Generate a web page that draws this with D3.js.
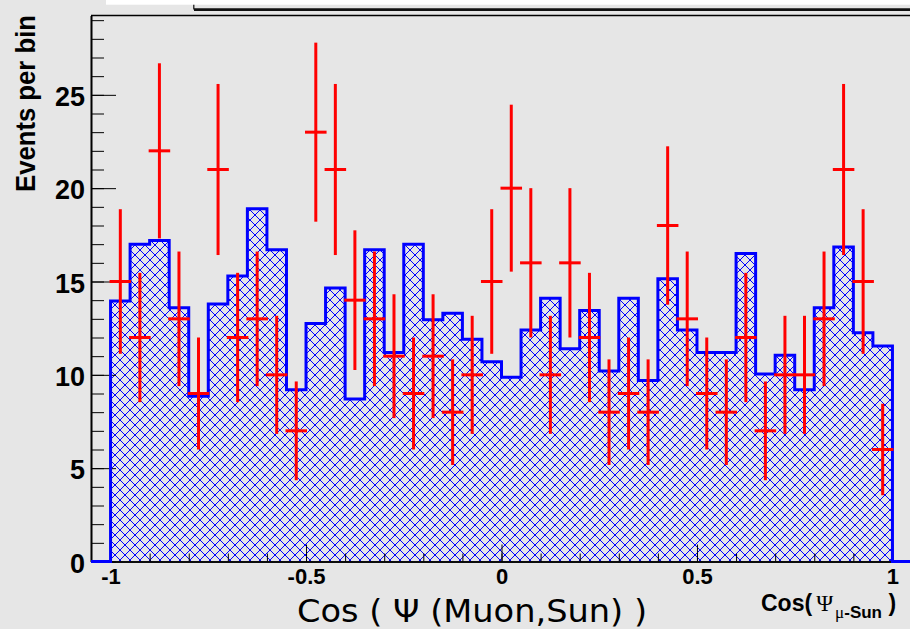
<!DOCTYPE html>
<html>
<head>
<meta charset="utf-8">
<script src="https://cdn.jsdelivr.net/npm/d3@7"></script>
<style>
  html, body { margin: 0; padding: 0; background: #e6e6e6; overflow: hidden; }
  svg { display: block; }
  .tick-label { font-family: "Liberation Sans", Arial, sans-serif; font-weight: bold; fill: #000; }
</style>
</head>
<body>
<svg></svg>
<script>
const WIDTH = 910, HEIGHT = 629;

// histogram binning (40 bins between -1 and 1)
const binLow = -1, binHigh = 1, nBins = 40;
// expected distribution (blue hatched histogram)
const expected = [13.95, 17.0, 17.2, 13.6, 8.85, 13.8, 15.3, 18.9, 16.7, 9.2,
  12.75, 14.65, 8.7, 16.7, 11.2, 17.0, 12.95, 13.3, 11.9, 10.7,
  9.87, 12.4, 14.1, 11.4, 13.45, 10.2, 14.1, 9.7, 15.15, 12.4,
  11.2, 11.2, 16.5, 10.05, 11.05, 9.2, 13.6, 16.85, 12.25, 11.55];
// observed events (red crosses, sqrt(N) errors)
const observed = [15, 12, 22, 13, 9, 21, 12, 13, 10, 7,
  23, 21, 14, 13, 11, 9, 11, 8, 10, 15,
  20, 16, 10, 16, 12, 8, 9, 8, 18, 13,
  9, 8, 12, 7, 10, 10, 13, 21, 15, 6];
const xMajorTicks = [-1, -0.5, 0, 0.5, 1];
const xMajorLabels = ["-1", "-0.5", "0", "0.5", "1"];
const yMajorTicks = [0, 5, 10, 15, 20, 25];

const svg = d3.select("svg").attr("width", WIDTH).attr("height", HEIGHT);

const x = d3.scaleLinear().domain([-1.05, 1.05]).range([91, 912]);
const y = d3.scaleLinear().domain([0, 29.25]).range([561.5, 15.5]);
const binWidth = (binHigh - binLow) / nBins;
const edges = d3.range(nBins + 1).map(i => binLow + i * binWidth);

// background
svg.append("rect").attr("width", WIDTH).attr("height", HEIGHT).attr("fill", "#e6e6e6");

// hatch pattern
const defs = svg.append("defs");
defs.append("pattern")
  .attr("id", "hatch")
  .attr("patternUnits", "userSpaceOnUse")
  .attr("width", 10)
  .attr("height", 10)
  .append("path")
  .attr("d", "M0,0L10,10M10,0L0,10")
  .attr("stroke", "#0000ff")
  .attr("stroke-width", 1)
  .attr("fill", "none");

// title pave remnants at the top
svg.append("rect").attr("x", 106).attr("y", 0).attr("width", 804).attr("height", 4.7).attr("fill", "#fff");
svg.append("line").attr("x1", 193.8).attr("x2", 193.8).attr("y1", 4.7).attr("y2", 9.5)
  .attr("stroke", "#111").attr("stroke-width", 1.2);
svg.append("line").attr("x1", 194).attr("x2", 910).attr("y1", 9.6).attr("y2", 9.6)
  .attr("stroke", "#111").attr("stroke-width", 2.6);

// histogram fill
const stepPts = [];
expected.forEach((v, i) => {
  stepPts.push([edges[i], v]);
  stepPts.push([edges[i + 1], v]);
});
svg.append("path")
  .datum(stepPts)
  .attr("d", d3.area().x(d => x(d[0])).y0(y(0)).y1(d => y(d[1])))
  .attr("fill", "url(#hatch)");

// frame top
svg.append("line")
  .attr("x1", x(-1.05)).attr("x2", WIDTH)
  .attr("y1", y.range()[1]).attr("y2", y.range()[1])
  .attr("stroke", "#000").attr("stroke-width", 1.4);

// y axis
const yAxis = svg.append("g").attr("transform", `translate(${x(-1.05)},0)`);
yAxis.call(d3.axisLeft(y).tickValues(d3.range(0, 30)).tickSize(-13).tickSizeOuter(0).tickFormat(""));
yAxis.append("g").call(d3.axisLeft(y).tickValues(yMajorTicks).tickSize(-25).tickSizeOuter(0).tickPadding(6));
yAxis.selectAll("path.domain").attr("stroke", "#000").attr("stroke-width", 1.6);
yAxis.selectAll(".tick line").attr("stroke", "#000").attr("stroke-width", 1);
yAxis.selectAll(".tick text")
  .attr("class", "tick-label")
  .style("font-size", "27px")
  .attr("dy", "0.4em");

// x axis
const xAxis = svg.append("g").attr("transform", `translate(0,${y(0)})`);
xAxis.call(d3.axisBottom(x).tickValues(d3.range(-10, 11).map(i => i / 10)).tickSize(-8).tickSizeOuter(0).tickFormat(""));
xAxis.append("g").call(d3.axisBottom(x).tickValues(xMajorTicks).tickSize(-17).tickSizeOuter(0).tickPadding(7)
  .tickFormat((d, i) => xMajorLabels[i]));
xAxis.selectAll("path.domain").attr("stroke", "#000").attr("stroke-width", 1.6);
xAxis.selectAll(".tick line").attr("stroke", "#000").attr("stroke-width", 1);
xAxis.selectAll(".tick text")
  .attr("class", "tick-label")
  .style("font-size", "22px");

// histogram outline (runs along the bottom outside [-1, 1])
const outline = [[-1.05, 0], [binLow, 0]].concat(stepPts, [[binHigh, 0], [1.06, 0]]);
svg.append("path")
  .datum(outline)
  .attr("d", d3.line().x(d => x(d[0])).y(d => y(d[1])))
  .attr("fill", "none")
  .attr("stroke", "#0000ff")
  .attr("stroke-width", 3)
  .attr("stroke-linejoin", "miter");

// observed points with errors
const pts = svg.append("g").attr("class", "observed")
  .selectAll("g")
  .data(observed)
  .enter()
  .append("g");
pts.append("line")
  .attr("x1", (d, i) => x(edges[i] + binWidth / 2))
  .attr("x2", (d, i) => x(edges[i] + binWidth / 2))
  .attr("y1", d => y(d - Math.sqrt(d)))
  .attr("y2", d => y(d + Math.sqrt(d)))
  .attr("stroke", "#ff0000")
  .attr("stroke-width", 3);
pts.append("line")
  .attr("x1", (d, i) => x(edges[i]) - 1)
  .attr("x2", (d, i) => x(edges[i + 1]) + 1)
  .attr("y1", d => y(d))
  .attr("y2", d => y(d))
  .attr("stroke", "#ff0000")
  .attr("stroke-width", 3);

// axis titles
svg.append("text")
  .attr("transform", "translate(35,15) rotate(-90)")
  .attr("text-anchor", "end")
  .attr("textLength", 177)
  .attr("lengthAdjust", "spacingAndGlyphs")
  .style("font-family", "'Liberation Sans', Arial, sans-serif")
  .style("font-weight", "bold")
  .style("font-size", "27px")
  .text("Events per bin");

svg.append("text")
  .attr("x", 297)
  .attr("y", 622)
  .attr("textLength", 350)
  .attr("lengthAdjust", "spacingAndGlyphs")
  .style("font-family", "'Comic Sans MS', 'DejaVu Sans', sans-serif")
  .style("font-size", "32px")
  .text("Cos ( \u03A8 (Muon,Sun) )");

const corner = svg.append("text")
  .attr("x", 761)
  .attr("y", 611)
  .style("font-family", "'Liberation Sans', Arial, sans-serif")
  .style("font-weight", "bold")
  .style("font-size", "23px");
corner.append("tspan").text("Cos(");
corner.append("tspan").attr("dx", 4)
  .style("font-family", "'Liberation Serif', 'Times New Roman', serif")
  .style("font-weight", "normal")
  .text("\u03A8");
corner.append("tspan").attr("dx", 2).attr("dy", 7)
  .style("font-family", "'Liberation Serif', 'Times New Roman', serif")
  .style("font-weight", "normal")
  .style("font-size", "17px")
  .text("\u03BC");
corner.append("tspan")
  .style("font-size", "17px")
  .text("-Sun");
corner.append("tspan").attr("dy", -7).text(" )");
</script>
</body>
</html>
